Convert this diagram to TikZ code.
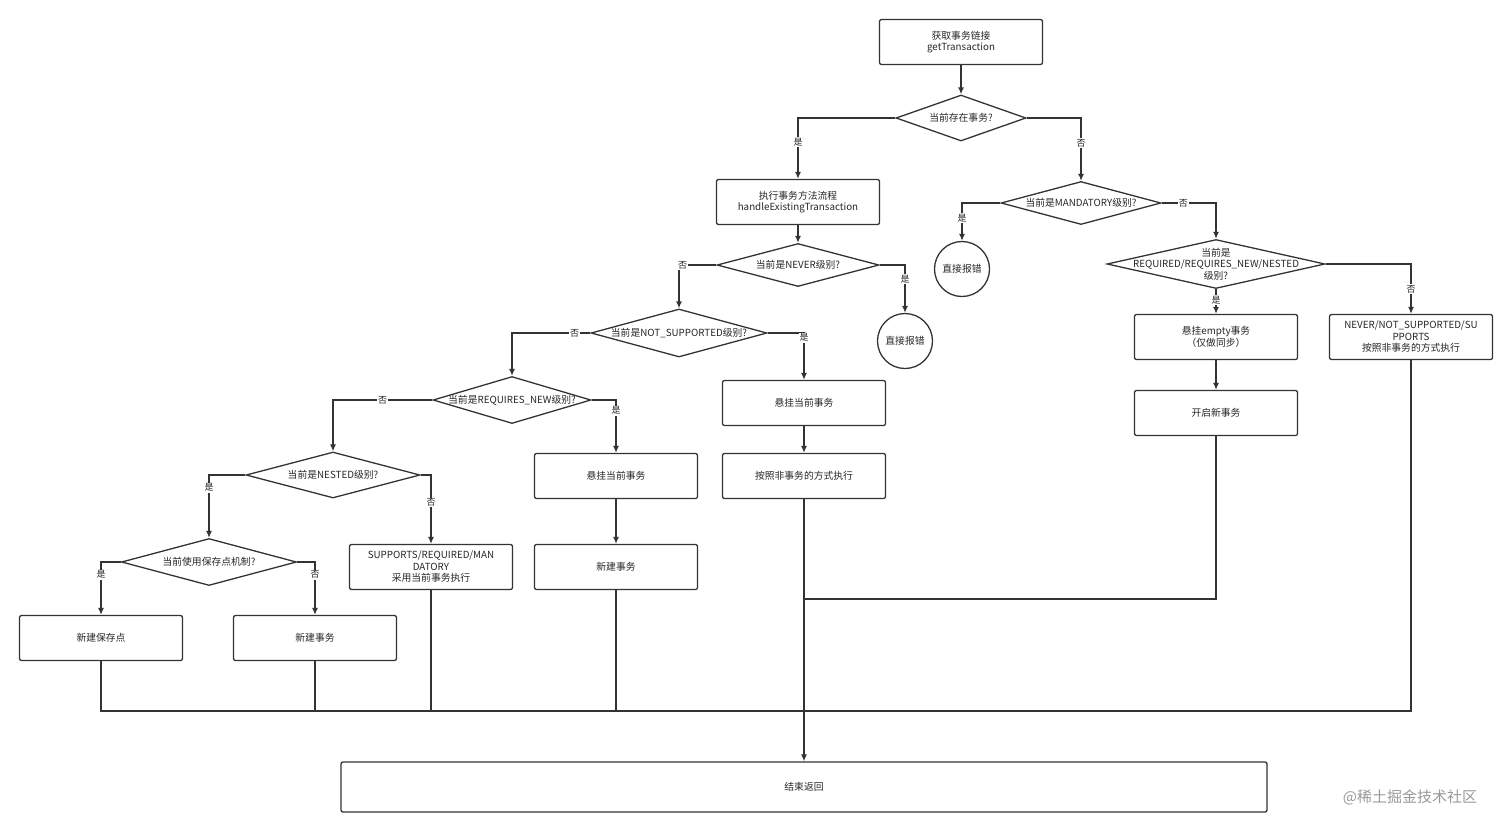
\documentclass[tikz,border=0pt]{standalone}
\usepackage{fontspec}
\setmainfont{Noto Sans CJK SC}
\usetikzlibrary{shapes.geometric,arrows.meta}
\begin{document}
\begin{tikzpicture}[x=1pt,y=-1pt,
  every node/.style={font=\fontsize{9.8}{11.5}\selectfont, text=black!85},
  box/.style={draw=black!80, line width=1.3pt, rounded corners=2pt, minimum width=163pt, minimum height=45pt, inner sep=1pt, align=center, text width=160pt},
  dia/.style={draw=black!80, line width=1.3pt, diamond, inner sep=0pt},
  circ/.style={draw=black!80, line width=1.3pt, circle, minimum size=55pt, inner sep=0pt},
  lbl/.style={fill=white, inner sep=1pt, font=\fontsize{9}{10}\selectfont},
  ar/.style={draw=black!80, line width=1.3pt, -{Latex[length=7pt,width=6pt]}},
  ln/.style={draw=black!80, line width=1.3pt}]
\useasboundingbox (0,0) rectangle (1512,831);
% nodes
\node[box] (start) at (961,42) {获取事务链接\\getTransaction};
\node[dia, minimum width=130pt, minimum height=46pt] (d1) at (961,118) {};
\node at (d1) {当前存在事务?};
\node[box] (exist) at (798,202) {执行事务方法流程\\handleExistingTransaction};
\node[dia, minimum width=160pt, minimum height=43pt] (d2) at (1081,203) {};
\node at (d2) {当前是MANDATORY级别?};
\node[circ] (err1) at (962,269) {直接报错};
\node[dia, minimum width=218pt, minimum height=49pt] (d3) at (1216,264) {};
\node[align=center] at (d3) {当前是\\REQUIRED/REQUIRES\_NEW/NESTED\\级别?};
\node[box] (susE) at (1216,337) {悬挂empty事务\\（仅做同步）};
\node[box] (never) at (1411,337) {NEVER/NOT\_SUPPORTED/SU\\PPORTS\\按照非事务的方式执行};
\node[box] (open) at (1216,413) {开启新事务};
\node[dia, minimum width=162pt, minimum height=43pt] (dnev) at (798,265) {};
\node at (dnev) {当前是NEVER级别?};
\node[circ] (err2) at (905,341) {直接报错};
\node[dia, minimum width=176pt, minimum height=48pt] (dns) at (679,333) {};
\node at (dns) {当前是NOT\_SUPPORTED级别?};
\node[box] (sus1) at (804,403) {悬挂当前事务};
\node[box] (nontx) at (804,476) {按照非事务的方式执行};
\node[dia, minimum width=158pt, minimum height=47pt] (drn) at (512,400) {};
\node at (drn) {当前是REQUIRES\_NEW级别?};
\node[box] (sus2) at (616,476) {悬挂当前事务};
\node[box] (new1) at (616,567) {新建事务};
\node[dia, minimum width=174pt, minimum height=46pt] (dnest) at (333,475) {};
\node at (dnest) {当前是NESTED级别?};
\node[box] (supp) at (431,567) {SUPPORTS/REQUIRED/MAN\\DATORY\\采用当前事务执行};
\node[dia, minimum width=175pt, minimum height=47pt] (dsave) at (209,562) {};
\node at (dsave) {当前使用保存点机制?};
\node[box] (save) at (101,638) {新建保存点};
\node[box] (new2) at (315,638) {新建事务};
\node[box, minimum width=926pt, text width=900pt, minimum height=50pt] (end) at (804,787) {结束返回};
\node[text=black!40, font=\fontsize{15}{17}\selectfont] (wm) at (1410,797) {@稀土掘金技术社区};
% connectors
\draw[ar] (start) -- (d1);
\draw[ar] (d1.west) -| (exist.north) node[lbl, pos=0.7] {是};
\draw[ar] (d1.east) -| (d2.north) node[lbl, pos=0.7] {否};
\draw[ar] (d2.west) -| (err1.north) node[lbl, pos=0.7] {是};
\draw[ar] (d2.east) -| (d3.north) node[lbl, pos=0.2] {否};
\draw[ar] (d3) -- (susE) node[lbl, pos=0.45] {是};
\draw[ar] (d3.east) -| (never.north) node[lbl, pos=0.75] {否};
\draw[ar] (susE) -- (open);
\draw[ar] (exist) -- (dnev);
\draw[ar] (dnev.west) -| (dns.north) node[lbl, pos=0.45] {否};
\draw[ar] (dnev.east) -| (err2.north) node[lbl, pos=0.65] {是};
\draw[ar] (dns.west) -| (drn.north) node[lbl, pos=0.1] {否};
\draw[ar] (dns.east) -| (sus1.north) node[lbl, pos=0.55] {是};
\draw[ar] (sus1) -- (nontx);
\draw[ar] (drn.west) -| (dnest.north) node[lbl, pos=0.25] {否};
\draw[ar] (drn.east) -| (sus2.north) node[lbl, pos=0.6] {是};
\draw[ar] (sus2) -- (new1);
\draw[ar] (dnest.west) -| (dsave.north) node[lbl, pos=0.6] {是};
\draw[ar] (dnest.east) -| (supp.north) node[lbl, pos=0.7] {否};
\draw[ar] (dsave.west) -| (save.north) node[lbl, pos=0.62] {是};
\draw[ar] (dsave.east) -| (new2.north) node[lbl, pos=0.62] {否};
\coordinate (j) at (804,711);
\draw[ln] (save.south) |- (j);
\draw[ln] (new2.south) |- (j);
\draw[ln] (supp.south) |- (j);
\draw[ln] (new1.south) |- (j);
\draw[ln] (never.south) |- (j);
\draw[ln] (open.south) |- (804,599);
\draw[ar] (nontx) -- (end);
\end{tikzpicture}
\end{document}
